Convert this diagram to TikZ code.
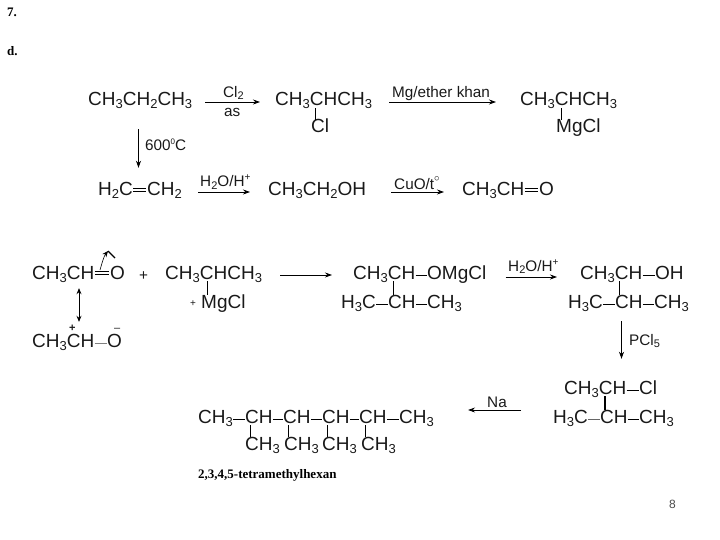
\documentclass[tikz,border=0pt]{standalone}
\usepackage{fontspec}
\usetikzlibrary{arrows.meta}
\setmainfont{Liberation Sans}
\newfontfamily\headfont{Liberation Serif}
\newcommand{\low}[1]{\raisebox{-3pt}{\fontsize{13}{13}\selectfont #1}}
\newcommand{\lowb}[1]{\raisebox{-2pt}{\fontsize{11}{11}\selectfont #1}}
\newcommand{\high}[1]{\raisebox{6pt}{\fontsize{10}{10}\selectfont #1}}
\tikzset{
  grp/.style={inner sep=0pt, anchor=base west, text height=13pt, text depth=5pt, font=\fontsize{19}{19}\selectfont, text=black!90},
  lbl/.style={inner sep=0pt, anchor=base west, font=\fontsize{15.3}{15}\selectfont, text=black!90},
  note/.style={inner sep=0pt, anchor=base west, font=\headfont\bfseries\fontsize{13}{13}\selectfont},
  rxn/.style={-{Stealth[length=7pt,width=5pt]}, line width=0.8pt},
  bond/.style={line width=0.7pt},
  vbond/.style={line width=0.8pt, shorten <=-3pt},
  dbl/.style={double, double distance=2pt, line width=0.6pt, shorten >=1pt},
}
\begin{document}
\begin{tikzpicture}[x=1pt,y=-1pt]
\useasboundingbox (0,0) rectangle (720,540);
    % headings
    \node[note] (seven) at (7,17) {7.};
    \node[note] (dee) at (7,56) {d.};

    % first row
    \node[grp] (propane) at (88,106) {CH\low{3}CH\low{2}CH\low{3}};
    \node[grp] (chloro) at (275,106) {CH\low{3}CHCH\low{3}};
    \node[grp] (cl) at (311,133) {Cl};
    \node[grp] (grignard) at (520,106) {CH\low{3}CHCH\low{3}};
    \node[grp] (mgcl) at (556,133) {MgCl};
    \node[lbl] (clgas) at (223,98) {Cl\lowb{2}};
    \node[lbl] (as) at (224,117) {as};
    \node[lbl] (mgether) at (392,98) {Mg/ether khan};
    \draw[rxn, shorten <=13pt, shorten >=15pt] (propane.east) -- (chloro.west);
    \draw[rxn, shorten <=17pt, shorten >=24pt] (chloro.east) -- (grignard.west);
    \draw[vbond] ([xshift=40pt]chloro.south west) -- ([xshift=4pt]cl.north west);
    \draw[vbond] ([xshift=41pt]grignard.south west) -- ([xshift=5pt]mgcl.north west);

    % second row
    \node[grp] (etha) at (98,196) {H\low{2}C};
    \node[grp] (ethb) at (147,196) {CH\low{2}};
    \node[grp] (ethanol) at (268,196) {CH\low{3}CH\low{2}OH};
    \node[grp] (ethanal) at (462,196) {CH\low{3}CH};
    \node[grp] (ethanalo) at (539,196) {O};
    \node[lbl] (heat) at (145,151) {600\raisebox{6pt}{\fontsize{8}{8}\selectfont 0}C};
    \node[lbl] (acida) at (200,187) {H\lowb{2}O/H\high{+}};
    \node[lbl] (cuo) at (394,190) {CuO/t\raisebox{8pt}{\fontsize{11}{11}\selectfont $\circ$}};
    \draw[rxn, shorten <=18pt, shorten >=15pt] ([xshift=50.5pt]propane.south west) -- ([xshift=40.5pt]etha.north west);
    \draw[dbl] ([yshift=2pt]etha.east) -- ([yshift=2pt]ethb.west);
    \draw[rxn, shorten <=16pt, shorten >=18pt] (ethb.east) -- (ethanol.west);
    \draw[rxn, shorten <=25pt, shorten >=18pt] (ethanol.east) -- (ethanal.west);
    \draw[dbl] ([yshift=2pt]ethanal.east) -- ([yshift=2pt]ethanalo.west);

    % third row, left
    \node[grp] (carbonyl) at (32,279) {CH\low{3}CH};
    \node[grp] (carbonylo) at (110,279) {O};
    \node[grp] (ion) at (32,347) {CH\low{3}CH};
    \node[grp] (iono) at (107,347) {O};
    \node[lbl] (plus) at (139,280) {+};
    \node[grp] (reagent) at (165,279) {CH\low{3}CHCH\low{3}};
    \node[grp] (reagentmg) at (201,308) {MgCl};
    \node[lbl, font=\fontsize{10}{10}\selectfont] (plusb) at (190,306) {+};
    \node[lbl, font=\bfseries\fontsize{11}{11}\selectfont] (pluscat) at (69,331) {+};
    \node[lbl, font=\fontsize{11}{11}\selectfont] (minus) at (114,331) {--};
    \coordinate (hookstart) at (100,270);
    \coordinate (hooktop) at (108,251);
    \coordinate (hookend) at (115,258);
    \draw[dbl] ([yshift=2pt]carbonyl.east) -- ([yshift=2pt]carbonylo.west);
    \draw[bond, black!50] (ion.east) -- (iono.west);
    \draw[{Stealth[length=6pt,width=5pt]}-{Stealth[length=6pt,width=5pt]}, line width=0.8pt, shorten <=4pt, shorten >=12pt] ([xshift=47pt]carbonyl.south west) -- ([xshift=47pt]ion.north west);
    \draw[-{Stealth[length=6pt,width=5pt]}, line width=0.6pt] (hookstart) .. controls (102,263) and (104,256) .. (hooktop);
    \draw[line width=1.3pt] (hooktop) -- (hookend);
    \draw[vbond] ([xshift=42pt]reagent.south west) -- ([xshift=6pt]reagentmg.north west);

    % third row, right
    \node[grp] (alkoxy) at (353,279) {CH\low{3}CH};
    \node[grp] (omgcl) at (427,279) {OMgCl};
    \node[grp] (ma) at (341,308) {H\low{3}C};
    \node[grp] (mb) at (388,308) {CH};
    \node[grp] (mc) at (427,308) {CH\low{3}};
    \node[grp] (alcohol) at (580,279) {CH\low{3}CH};
    \node[grp] (oh) at (655,279) {OH};
    \node[grp] (na) at (568,308) {H\low{3}C};
    \node[grp] (nb) at (615,308) {CH};
    \node[grp] (nc) at (654,308) {CH\low{3}};
    \node[lbl] (acidb) at (508,271) {H\lowb{2}O/H\high{+}};
    \node[lbl] (pcl) at (629,345) {PCl\lowb{5}};
    \draw[rxn, shorten <=18pt, shorten >=21pt] (reagent.east) -- (alkoxy.west);
    \draw[bond] (alkoxy.east) -- (omgcl.west);
    \draw[bond] (ma.east) -- (mb.west);
    \draw[bond] (mb.east) -- (mc.west);
    \draw[vbond] ([xshift=40pt]alkoxy.south west) -- ([xshift=5pt]mb.north west);
    \draw[rxn, shorten <=19pt, shorten >=23pt] ([yshift=-2pt]omgcl.east) -- ([yshift=-2pt]alcohol.west);
    \draw[bond] (alcohol.east) -- (oh.west);
    \draw[bond] (na.east) -- (nb.west);
    \draw[bond] (nb.east) -- (nc.west);
    \draw[vbond] ([xshift=39pt]alcohol.south west) -- ([xshift=4pt]nb.north west);

    % fourth row
    \node[grp] (chlor) at (564,394) {CH\low{3}CH};
    \node[grp] (chlorcl) at (639,394) {Cl};
    \node[grp] (pa) at (553,423) {H\low{3}C};
    \node[grp] (pb) at (600,423) {CH};
    \node[grp] (pc) at (639,423) {CH\low{3}};
    \node[lbl] (sodium) at (487,407) {Na};
    \draw[rxn, shorten <=8pt, shorten >=22pt] ([xshift=6.5pt]nb.south west) -- ([xshift=57.5pt]chlor.north west);
    \draw[bond] (chlor.east) -- (chlorcl.west);
    \draw[bond, black!60] (pa.east) -- (pb.west);
    \draw[bond] (pb.east) -- (pc.west);
    \draw[vbond, line width=1.2pt] ([xshift=41pt]chlor.south west) -- ([xshift=5pt]pb.north west);

    % chain
    \node[grp] (ca) at (198,423) {CH\low{3}};
    \node[grp] (cb) at (245,423) {CH};
    \node[grp] (cc) at (283,423) {CH};
    \node[grp] (cd) at (322,423) {CH};
    \node[grp] (ce) at (359,423) {CH};
    \node[grp] (cf) at (399,423) {CH\low{3}};
    \node[grp] (ma1) at (245,450) {CH\low{3}};
    \node[grp] (ma2) at (284,450) {CH\low{3}};
    \node[grp] (ma3) at (322,450) {CH\low{3}};
    \node[grp] (ma4) at (361,450) {CH\low{3}};
    \foreach \from/\to in {ca/cb,cb/cc,cc/cd,cd/ce,ce/cf}
      \draw[bond] (\from.east) -- (\to.west);
    \foreach \from/\to/\da/\db in {cb/ma1/5/5,cc/ma2/5/4,cd/ma3/5/5,ce/ma4/6/4}
      \draw[vbond] ([xshift=\da pt]\from.south west) -- ([xshift=\db pt]\to.north west);
    \draw[rxn, shorten <=32pt, shorten >=34pt] ([yshift=9pt]pa.west) -- ([yshift=9pt]cf.east);

    \node[note, font=\headfont\bfseries\fontsize{13}{13}\selectfont] (name) at (198,478) {2,3,4,5-tetramethylhexan};
    \node[inner sep=0pt, anchor=base west, font=\fontsize{12}{12}\selectfont, text=black!70] (page) at (669,508) {8};
\end{tikzpicture}
\end{document}
